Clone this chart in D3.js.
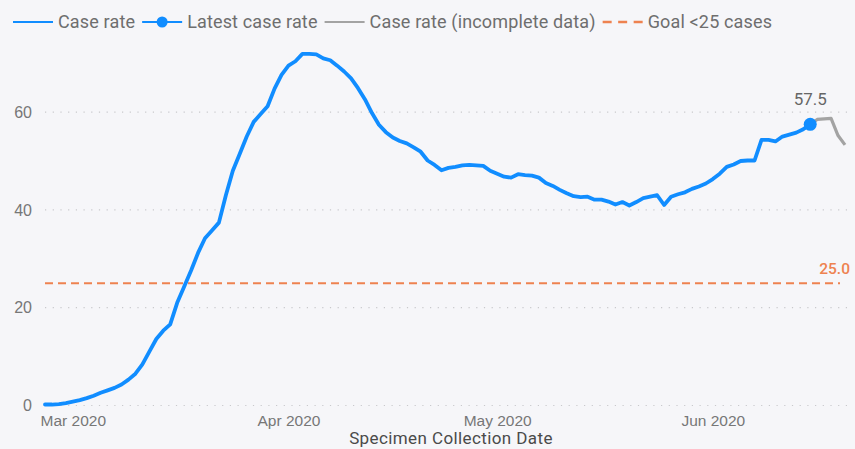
<!DOCTYPE html>
<html>
<head>
<meta charset="utf-8">
<script src="https://cdn.jsdelivr.net/npm/d3@7"></script>
<style>
  body { margin: 0; background: #f6f6f9; }
  svg { display: block; font-family: Roboto, "Noto Sans", sans-serif; }
</style>
</head>
<body>
<script>
// Daten, ein Wert pro Tag ab 26. Feb 2020
var startDate = "2020-02-26";
var caseRate = [
  0.2, 0.2, 0.3, 0.5, 0.8, 1.1, 1.5, 2.0, 2.6, 3.1,
  3.6, 4.3, 5.3, 6.5, 8.4, 11.0, 13.6, 15.3, 16.6, 21.0,
  24.3, 27.6, 31.2, 34.2, 35.8, 37.4, 43.0, 48.0, 51.5, 55.0,
  58.0, 59.6, 61.2, 64.8, 67.6, 69.5, 70.4, 71.9, 71.9, 71.8,
  71.0, 70.6, 69.5, 68.3, 66.9, 64.9, 62.6, 59.8, 57.4, 55.9,
  54.8, 54.1, 53.6, 52.8, 51.9, 50.1, 49.2, 48.1, 48.6, 48.8,
  49.1, 49.2, 49.1, 49.0, 48.0, 47.4, 46.8, 46.6, 47.3, 47.1,
  47.0, 46.6, 45.5, 44.9, 44.1, 43.4, 42.8, 42.6, 42.7, 42.1,
  42.1, 41.7, 41.1, 41.6, 40.9, 41.6, 42.4, 42.7, 43.0, 41.0,
  42.7, 43.2, 43.6, 44.3, 44.8, 45.4, 46.3, 47.4, 48.8, 49.3,
  50.0, 50.1, 50.1, 54.3, 54.3, 54.0, 55.0, 55.4, 55.8, 56.5,
  57.5
];
// unvollständige Daten (ab dem letzten Wert)
var incompleteRate = [57.5, 58.5, 58.6, 58.7, 55.2, 53.3];
var goalValue = 25;
var yTicks = [0, 20, 40, 60];
var xTickDates = ["2020-03-01", "2020-04-01", "2020-05-01", "2020-06-01"];
var legendLabels = ["Case rate", "Latest case rate", "Case rate (incomplete data)", "Goal <25 cases"];

var width = 855, height = 449;
var blue = "#118dff", grey = "#a3a3a3", orange = "#ee8250";

var parse = d3.timeParse("%Y-%m-%d");
var start = parse(startDate);
var rateData = caseRate.map(function(v, i) { return { date: d3.timeDay.offset(start, i), value: v }; });
var lastIndex = caseRate.length - 1;
var incData = incompleteRate.map(function(v, i) { return { date: d3.timeDay.offset(start, lastIndex + i), value: v }; });
var latest = rateData[lastIndex];

// Skalen
var xScale = d3.scaleTime()
  .domain([start, incData[incData.length - 1].date])
  .range([45, 845]);
var yScale = d3.scaleLinear().domain([0, 60]).range([405.5, 112.1]);

var svg = d3.select("body").append("svg").attr("width", width).attr("height", height);

// Gitterlinien (gepunktet)
svg.append("g").selectAll("line").data(yTicks).enter()
  .append("line")
  .attr("x1", 45).attr("x2", 852)
  .attr("y1", function(d) { return yScale(d); })
  .attr("y2", function(d) { return yScale(d); })
  .attr("stroke", "#c9c9cc")
  .attr("stroke-width", 1.2)
  .attr("stroke-dasharray", "1.2,6.5");

// Achsen
var yAxis = d3.axisLeft(yScale).tickValues(yTicks).tickSize(0).tickPadding(13);
var yG = svg.append("g").attr("transform", "translate(45,0)").call(yAxis);
yG.select(".domain").remove();
yG.selectAll("text").attr("fill", "#777").style("font-size", "16px");

var xAxis = d3.axisBottom(xScale)
  .tickValues(xTickDates.map(parse))
  .tickFormat(d3.timeFormat("%b %Y"))
  .tickSize(0).tickPadding(3);
var xG = svg.append("g").attr("transform", "translate(0,412)").call(xAxis);
xG.select(".domain").remove();
xG.selectAll("text").attr("fill", "#777").style("font-size", "15.5px");

svg.append("text")
  .attr("x", 451).attr("y", 444)
  .attr("text-anchor", "middle")
  .attr("fill", "#4a4a4a")
  .style("font-size", "17px").style("letter-spacing", "0.4px")
  .text("Specimen Collection Date");

// Ziel-Linie
svg.append("line")
  .attr("x1", 45).attr("x2", 840)
  .attr("y1", yScale(goalValue)).attr("y2", yScale(goalValue))
  .attr("stroke", orange).attr("stroke-width", 2.2)
  .attr("stroke-dasharray", "8,5");
svg.append("text")
  .attr("x", 850).attr("y", yScale(goalValue) - 9)
  .attr("text-anchor", "end")
  .attr("fill", orange)
  .style("font-size", "15.5px").style("font-weight", 500)
  .text(d3.format(".1f")(goalValue));

// Linien
var line = d3.line()
  .x(function(d) { return xScale(d.date); })
  .y(function(d) { return yScale(d.value); });

svg.append("path").datum(incData)
  .attr("d", line)
  .attr("fill", "none").attr("stroke", grey).attr("stroke-width", 3.2)
  .attr("stroke-linejoin", "round");

svg.append("path").datum(rateData)
  .attr("d", line)
  .attr("fill", "none").attr("stroke", blue).attr("stroke-width", 3.8)
  .attr("stroke-linejoin", "round").attr("stroke-linecap", "round");

svg.append("circle")
  .attr("cx", xScale(latest.date)).attr("cy", yScale(latest.value))
  .attr("r", 6.5).attr("fill", blue);
svg.append("text")
  .attr("x", xScale(latest.date)).attr("y", yScale(latest.value) - 19)
  .attr("text-anchor", "middle")
  .attr("fill", "#666")
  .style("font-size", "17px")
  .text(d3.format(".1f")(latest.value));

// Legende
var legend = svg.append("g").attr("transform", "translate(0,22)");
var lx = 13;
legendLabels.forEach(function(label, i) {
  var g = legend.append("g").attr("transform", "translate(" + lx + ",0)");
  if (i === 3) {
    g.append("line").attr("x1", 0).attr("x2", 40)
      .attr("stroke", orange).attr("stroke-width", 2.5)
      .attr("stroke-dasharray", "9,6.5");
  } else {
    g.append("line").attr("x1", 0).attr("x2", 40)
      .attr("stroke", i === 2 ? grey : blue).attr("stroke-width", 2.2);
  }
  if (i === 1) g.append("circle").attr("cx", 20).attr("r", 5.5).attr("fill", blue);
  var t = g.append("text")
    .attr("x", 45).attr("dy", "0.35em")
    .attr("fill", "#6e6e6e")
    .style("font-size", "18px").style("letter-spacing", "0.15px")
    .text(label);
  lx += 45 + t.node().getComputedTextLength() + 7;
});
</script>
</body>
</html>
